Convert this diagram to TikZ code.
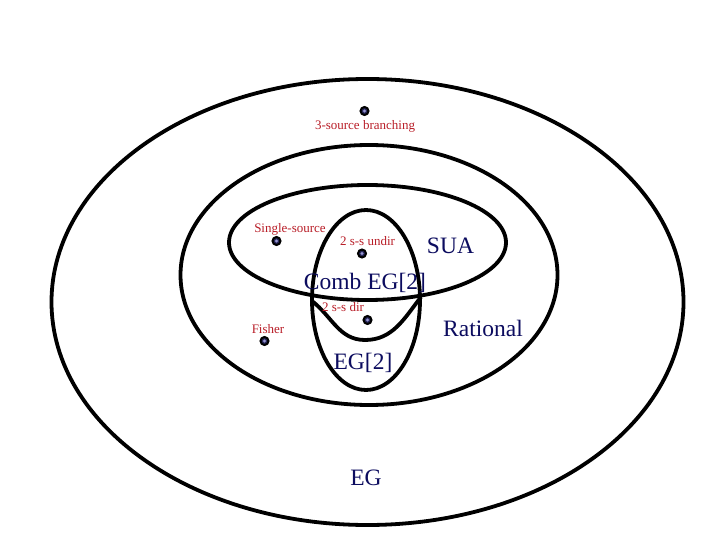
\documentclass[tikz,border=0pt]{standalone}
\usepackage{fontspec}
\setmainfont{Liberation Serif}
\definecolor{navytxt}{RGB}{12,12,95}
\definecolor{redtxt}{RGB}{185,30,40}
\definecolor{dotfill}{RGB}{40,40,90}
\definecolor{dotcore}{RGB}{150,150,210}
\begin{document}
\begin{tikzpicture}[x=1pt,y=-1pt,
  setline/.style={line width=3.8pt, black},
  biglabel/.style={inner sep=0pt, anchor=base, text=navytxt, font=\fontsize{23.5}{26}\selectfont},
  smalllabel/.style={inner sep=0pt, anchor=base, text=redtxt, font=\fontsize{13}{15}\selectfont},
  ptdot/.style={circle, inner sep=0pt, minimum size=8pt, fill=dotfill, draw=black, line width=2pt,
    path picture={\fill[dotcore] (path picture bounding box.center) circle (1.6pt);}}]
\useasboundingbox (0,0) rectangle (720,540);
\fill[white] (0,0) rectangle (720,540);
% sets
\draw[setline] (367.5,302) ellipse [x radius=316, y radius=223];
\draw[setline] (369,275) ellipse [x radius=188.5, y radius=130];
\draw[setline] (367.5,242.5) ellipse [x radius=138.5, y radius=57.5];
\draw[setline] (366,300) ellipse [x radius=54, y radius=90];
\coordinate (cl) at (312,301);
\coordinate (cb) at (365,340);
\coordinate (cr) at (421,297);
\draw[setline] (cl) to[out=-38,in=180] (cb) to[out=0,in=-128] (cr);
% points
\node[ptdot] (p3) at (364.5,111) {};
\node[smalllabel] (l3) at (365,130) {3-source branching};
\node[ptdot] (ps) at (276.5,241) {};
\node[smalllabel] (ls) at (290,233) {Single-source};
\node[ptdot] (pu) at (362,253.5) {};
\node[smalllabel] (lu) at (367.5,245.5) {2 s-s undir};
\node[ptdot] (pd) at (367.5,320) {};
\node[smalllabel] (ld) at (343,311) {2 s-s dir};
\node[ptdot] (pf) at (264.5,341) {};
\node[smalllabel] (lf) at (268,333.5) {Fisher};
% set labels
\node[biglabel] (sua) at (450.5,253) {SUA};
\node[biglabel] (comb) at (365,289.5) {Comb EG[2]};
\node[biglabel] (rat) at (483,336) {Rational};
\node[biglabel] (eg2) at (363,369.5) {EG[2]};
\node[biglabel] (eg) at (366,485) {EG};
\end{tikzpicture}
\end{document}
